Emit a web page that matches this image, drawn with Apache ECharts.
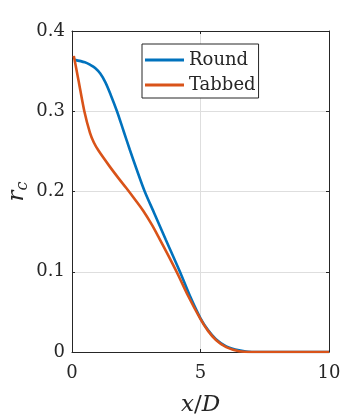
<!DOCTYPE html>
<html>
<head>
<meta charset="utf-8">
<script src="https://cdn.jsdelivr.net/npm/echarts@6/dist/echarts.min.js"></script>
<style>
  html, body { margin: 0; padding: 0; background: #fff; }
  #chart { width: 364px; height: 420px; }
</style>
</head>
<body>
<div id="chart"></div>
<script>
// x/D 위치와 r_c 값
var roundX = [0.1, 0.5, 0.7, 0.9, 1.1, 1.3, 1.5, 1.75, 2.0, 2.25, 2.5, 2.83, 3.2, 3.65, 4.2, 4.6, 5.0, 5.3, 5.6, 6.0, 6.5, 7.0, 8.0, 9.0, 10.0];
var roundY = [0.364, 0.361, 0.358, 0.354, 0.347, 0.336, 0.321, 0.300, 0.276, 0.252, 0.229, 0.200, 0.173, 0.140, 0.100, 0.069, 0.042, 0.027, 0.016, 0.007, 0.002, 0.000, 0.000, 0.000, 0.000];

var tabbedX = [0.07, 0.25, 0.48, 0.7, 0.85, 1.03, 1.47, 1.8, 2.12, 2.45, 2.77, 3.1, 3.39, 3.75, 4.13, 4.5, 5.0, 5.3, 5.6, 6.0, 6.5, 7.0, 8.0, 9.0, 10.0];
var tabbedY = [0.369, 0.339, 0.300, 0.273, 0.261, 0.251, 0.231, 0.217, 0.204, 0.190, 0.176, 0.159, 0.142, 0.120, 0.096, 0.071, 0.041, 0.026, 0.015, 0.006, 0.001, 0.000, 0.000, 0.000, 0.000];

var seriesNames = ['Round', 'Tabbed'];
var xTicks = [0, 5, 10];
var yTicks = [0, 0.1, 0.2, 0.3, 0.4];

function pairs(xs, ys) {
    var out = [];
    for (var i = 0; i < xs.length; i++) {
        out.push([xs[i], ys[i]]);
    }
    return out;
}

var chart = echarts.init(document.getElementById('chart'));
const colors = ['#0072BD', '#D95319'];
var axisColor = '#262626';
var font = 'DejaVu Serif';

var option = {
    animation: false,
    color: colors,
    grid: { left: 72, top: 31, right: 35, bottom: 68, outerBoundsMode: 'none', containLabel: false },
    legend: {
        data: seriesNames,
        orient: 'vertical',
        left: 142,
        top: 44,
        padding: [6, 3, 3, 3],
        itemGap: 5,
        itemWidth: 39,
        itemHeight: 3,
        icon: 'rect',
        borderColor: axisColor,
        borderWidth: 1,
        borderRadius: 0,
        backgroundColor: '#fff',
        textStyle: { fontFamily: font, fontSize: 18, color: axisColor, lineHeight: 20 }
    },
    xAxis: [
        {
            type: 'value',
            min: 0, max: 10, interval: 5,
            name: '{i|x}/{i|D}',
            nameLocation: 'middle',
            nameGap: 42,
            nameTextStyle: {
                fontFamily: font, fontSize: 23, color: axisColor,
                rich: { i: { fontFamily: font, fontSize: 23, fontStyle: 'italic', color: axisColor } }
            },
            axisLine: { show: true, onZero: false, lineStyle: { color: axisColor, width: 1 } },
            axisTick: { show: true, inside: true, length: 3, lineStyle: { color: axisColor } },
            axisLabel: { margin: 12, fontFamily: font, fontSize: 18, color: axisColor },
            splitLine: { show: true, lineStyle: { color: '#dedede', width: 1 } }
        },
        {
            type: 'value', position: 'top',
            min: 0, max: 10, interval: 5,
            axisLine: { show: true, onZero: false, lineStyle: { color: axisColor, width: 1 } },
            axisTick: { show: true, inside: true, length: 3, lineStyle: { color: axisColor } },
            axisLabel: { show: false },
            splitLine: { show: false }
        }
    ],
    yAxis: [
        {
            type: 'value',
            min: 0, max: 0.4, interval: 0.1,
            name: '{r|r}{c|c}',
            nameLocation: 'middle',
            nameRotate: 90,
            nameGap: 41,
            nameMoveOverlap: false,
            nameTextStyle: {
                rich: {
                    r: { fontFamily: font, fontSize: 23, fontStyle: 'italic', color: axisColor, verticalAlign: 'top' },
                    c: { fontFamily: font, fontSize: 16, fontStyle: 'italic', color: axisColor, verticalAlign: 'bottom', padding: [9, 0, 0, 0] }
                }
            },
            axisLine: { show: true, onZero: false, lineStyle: { color: axisColor, width: 1 } },
            axisTick: { show: true, inside: true, length: 3, lineStyle: { color: axisColor } },
            axisLabel: {
                margin: 7, fontFamily: font, fontSize: 18, color: axisColor,
                formatter: function (v) { return v === 0 ? '0' : v.toFixed(1); }
            },
            splitLine: { show: true, lineStyle: { color: '#dedede', width: 1 } }
        },
        {
            type: 'value', position: 'right',
            min: 0, max: 0.4, interval: 0.1,
            axisLine: { show: true, onZero: false, lineStyle: { color: axisColor, width: 1 } },
            axisTick: { show: true, inside: true, length: 3, lineStyle: { color: axisColor } },
            axisLabel: { show: false },
            splitLine: { show: false }
        }
    ],
    series: [
        {
            name: seriesNames[0],
            type: 'line',
            data: pairs(roundX, roundY),
            smooth: 0.3,
            showSymbol: false,
            lineStyle: { width: 2.6 }
        },
        {
            name: seriesNames[1],
            type: 'line',
            data: pairs(tabbedX, tabbedY),
            smooth: 0.3,
            showSymbol: false,
            lineStyle: { width: 2.6 }
        }
    ]
};

chart.setOption(option);
</script>
</body>
</html>
